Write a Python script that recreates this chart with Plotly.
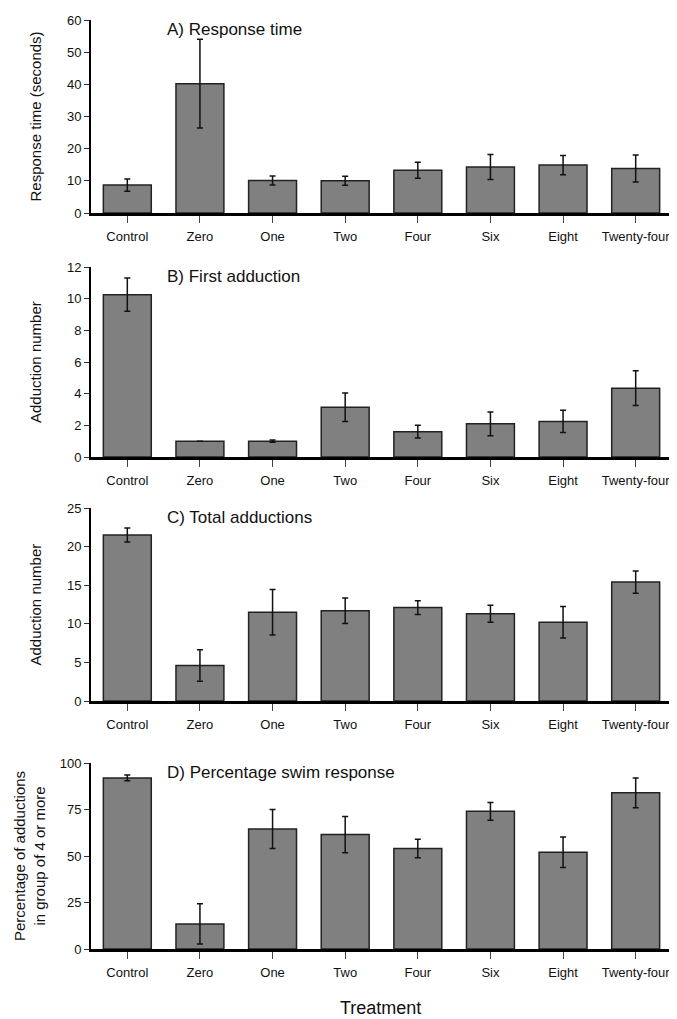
import plotly.graph_objects as go

categories = ["Control", "Zero", "One", "Two", "Four", "Six", "Eight", "Twenty-four"]

resp_time = [8.7, 40.2, 10.1, 10.0, 13.3, 14.3, 14.9, 13.8]
resp_time_err = [1.9, 13.8, 1.4, 1.4, 2.5, 3.9, 3.0, 4.2]

first_add = [10.25, 1.0, 1.0, 3.15, 1.6, 2.1, 2.25, 4.35]
first_add_err = [1.05, 0.0, 0.07, 0.9, 0.4, 0.75, 0.7, 1.1]

total_add = [21.5, 4.6, 11.5, 11.7, 12.1, 11.3, 10.2, 15.4]
total_add_err = [0.9, 2.05, 2.95, 1.65, 0.9, 1.1, 2.05, 1.45]

swim_pct = [92.0, 13.5, 64.5, 61.5, 54.0, 74.0, 52.0, 84.0]
swim_pct_err = [1.5, 10.8, 10.5, 9.8, 5.0, 4.8, 8.2, 8.0]

panels = [
    ("A) Response time", "Response time (seconds)", resp_time, resp_time_err, [0, 60], 10, (20, 213), 35),
    ("B) First adduction", "Adduction number", first_add, first_add_err, [0, 12], 2, (267, 457), 35),
    ("C) Total adductions", "Adduction number", total_add, total_add_err, [0, 25], 5, (508, 701), 35),
    ("D) Percentage swim response", "Percentage of adductions<br>in group of 4 or more", swim_pct, swim_pct_err, [0, 100], 25, (763, 949), 29),
]

OFF = 8  # page body offset
W, H = 677 - OFF, 1019 - OFF
FONT = "Liberation Sans Narrow, Arial Narrow, Liberation Sans, Arial, sans-serif"
FONT2 = "Liberation Sans, Arial, sans-serif"


def px(x):
    return (x - OFF) / W


def py(y):
    return 1 - (y - OFF) / H


fig = go.Figure()
x_dom = [px(91), px(672)]

for i, (title, ytitle, vals, errs, rng, dt, (ptop, pbot), tx) in enumerate(panels):
    n = i + 1
    xa = "x" if n == 1 else f"x{n}"
    ya = "y" if n == 1 else f"y{n}"
    fig.add_trace(go.Bar(
        x=categories, y=vals, xaxis=xa, yaxis=ya,
        marker=dict(color="#808080", line=dict(color="#222222", width=1.5)),
        width=0.66,
        error_y=dict(type="data", array=errs, visible=True, color="#111111", thickness=1.5, width=3),
        showlegend=False,
    ))
    dom = [py(pbot), py(ptop)]
    xkey = "xaxis" if n == 1 else f"xaxis{n}"
    ykey = "yaxis" if n == 1 else f"yaxis{n}"
    fig.update_layout(**{
        xkey: dict(domain=x_dom, anchor=ya, showline=True, linecolor="black", linewidth=2.5,
                   ticks="outside", ticklen=7, tickcolor="#444444", tickwidth=1,
                   ticklabelstandoff=3,
                   tickfont=dict(family=FONT, size=13, color="#111111"),
                   showgrid=False, zeroline=False, range=[-0.5, 7.5]),
        ykey: dict(domain=dom, anchor=xa, range=rng, dtick=dt, showline=True, linecolor="black",
                   linewidth=2, ticks="outside", ticklen=5, tickcolor="#333333", tickwidth=1.2,
                   tickfont=dict(family=FONT, size=13, color="#111111"),
                   showgrid=False, zeroline=False),
    })
    fig.add_annotation(text=title, xref="paper", yref="paper", x=px(165), y=py(ptop - 2),
                       xanchor="left", yanchor="top", showarrow=False,
                       font=dict(family=FONT2, size=17, color="#111111"))
    fig.add_annotation(text=ytitle, xref="paper", yref="paper", x=px(tx), y=py((ptop + pbot) / 2),
                       xanchor="center", yanchor="middle", showarrow=False, textangle=-90,
                       font=dict(family=FONT2, size=15, color="#111111"))

fig.add_annotation(text="Treatment", xref="paper", yref="paper", x=px(380), y=py(1008),
                   xanchor="center", yanchor="middle", showarrow=False,
                   font=dict(family=FONT2, size=18, color="#111111"))

fig.update_layout(width=W, height=H, margin=dict(l=0, r=0, t=0, b=0, autoexpand=False),
                  paper_bgcolor="white", plot_bgcolor="white", bargap=0.34)

fig.write_html("out.html")
